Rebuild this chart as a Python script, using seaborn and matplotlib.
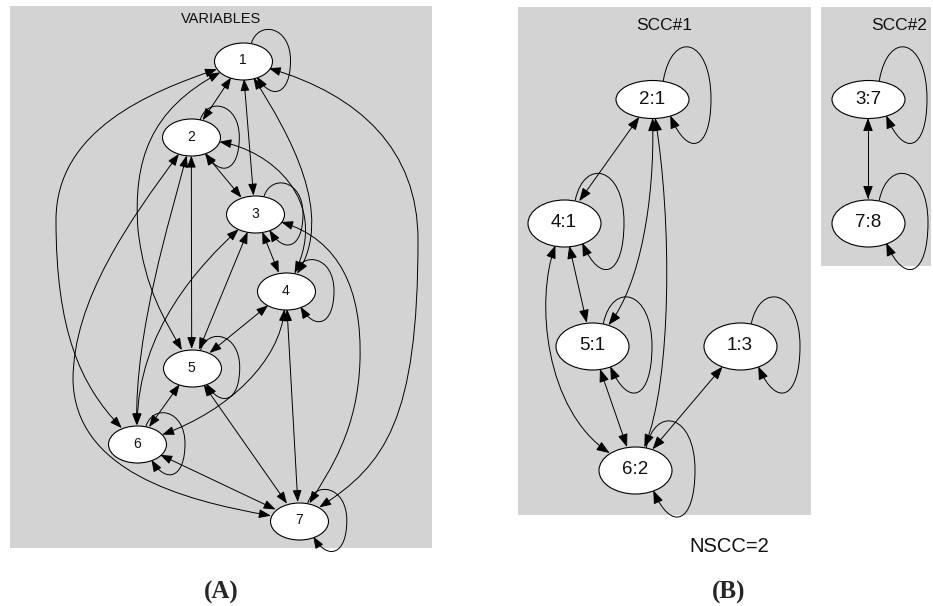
import numpy as np
import pandas as pd
import matplotlib
matplotlib.use("Agg")
import matplotlib.pyplot as plt
import seaborn as sns
from matplotlib.patches import Rectangle, FancyArrowPatch, ArrowStyle
from matplotlib.path import Path
from matplotlib.markers import MarkerStyle
from matplotlib.transforms import Affine2D

# ---------------- graph data ----------------
variables = ["1", "2", "3", "4", "5", "6", "7"]
variable_links = [
    ("1", "2"), ("1", "3"), ("2", "3"), ("2", "5"), ("3", "4"), ("3", "5"),
    ("4", "5"), ("4", "7"), ("5", "6"), ("5", "7"), ("6", "7"),
    ("1", "4"), ("2", "4"), ("1", "5"), ("1", "6"), ("1", "7"),
    ("2", "6"), ("2", "7"), ("3", "6"), ("3", "7"), ("4", "6"),
]
scc1_nodes = ["2:1", "4:1", "5:1", "1:3", "6:2"]
scc1_links = [("2:1", "4:1"), ("4:1", "5:1"), ("5:1", "6:2"), ("1:3", "6:2"),
              ("2:1", "5:1"), ("2:1", "6:2"), ("4:1", "6:2")]
scc2_nodes = ["3:7", "7:8"]
scc2_links = [("3:7", "7:8")]
panel_titles = ["VARIABLES", "SCC#1", "SCC#2"]
nscc_count = 2
panel_tags = ["(A)", "(B)"]

# ---------------- layout (pixel space) ----------------
W, H = 933, 606
pos = {
    "1": (242.5, 60.5), "2": (191.3, 137.2), "3": (255.0, 214.0),
    "4": (286.0, 290.7), "5": (191.7, 367.5), "6": (137.0, 443.8),
    "7": (298.8, 520.5),
    "2:1": (652.0, 99.0), "4:1": (564.0, 222.5), "5:1": (592.0, 346.0),
    "1:3": (740.0, 346.0), "6:2": (635.0, 470.0),
    "3:7": (868.0, 99.0), "7:8": (868.0, 222.5),
}
size = {n: (58, 37) for n in variables}
size.update({n: (73, 47) for n in ["4:1", "5:1", "1:3", "6:2", "7:8"]})
size.update({n: (73, 38) for n in ["2:1", "3:7"]})

# Bezier control points for the routed (curved) links
routes = {
    ("1", "4"): [(290, 135), (335, 215)],
    ("2", "4"): [(270, 150), (330, 200)],
    ("1", "5"): [(150, 110), (133, 160), (138, 230), (145, 290), (165, 320)],
    ("1", "6"): [(150, 92), (56, 130), (56, 220), (56, 330), (80, 385)],
    ("1", "7"): [(360, 95), (418, 150), (418, 240), (418, 420), (385, 465)],
    ("2", "6"): [(170, 220), (135, 330)],
    ("2", "7"): [(130, 220), (73, 300), (73, 380), (75, 470), (180, 500)],
    ("3", "6"): [(200, 265), (138, 330)],
    ("3", "7"): [(340, 240), (362, 290), (360, 360), (358, 430), (330, 470)],
    ("4", "6"): [(280, 360), (230, 410)],
    ("2:1", "5:1"): [(655, 200), (640, 285)],
    ("2:1", "6:2"): [(672, 220), (672, 380)],
    ("4:1", "6:2"): [(535, 300), (545, 410)],
}

loop_shape = {n: (48, 29, 29) for n in variables}
loop_shape.update({n: (60, 47, 45) for n in ["4:1", "5:1", "1:3", "6:2", "7:8"]})
loop_shape.update({n: (59, 51, 43) for n in ["2:1", "3:7"]})

sns.set_theme(style="white")
plt.rcParams["font.family"] = ["Liberation Sans", "DejaVu Sans"]

fig = plt.figure(figsize=(W / 100, H / 100), dpi=100)
ax = fig.add_axes([0, 0, 1, 1])

GREY = "#d3d3d3"
LW = 0.7


def anchor(node, toward):
    cx, cy = pos[node]
    w, h = size[node]
    dx, dy = toward[0] - cx, toward[1] - cy
    t = 1.0 / np.sqrt((dx / (w / 2)) ** 2 + (dy / (h / 2)) ** 2)
    return (cx + dx * t, cy + dy * t)


def arrow_style(both, big):
    hl, hw = (0.8, 0.3) if big else (0.72, 0.27)
    return ArrowStyle("<|-|>" if both else "-|>", head_length=hl, head_width=hw)


def draw_link(u, v, big=False):
    ctrl = routes.get((u, v))
    if ctrl is None:
        verts = [anchor(u, pos[v]), anchor(v, pos[u])]
        codes = [Path.MOVETO, Path.LINETO]
    else:
        verts = [anchor(u, ctrl[0])] + list(ctrl) + [anchor(v, ctrl[-1])]
        codes = [Path.MOVETO] + [Path.CURVE4] * (len(ctrl) + 1)
    ax.add_patch(FancyArrowPatch(path=Path(verts, codes),
                                 arrowstyle=arrow_style(True, big),
                                 mutation_scale=10, color="black",
                                 lw=LW, zorder=2))


def draw_loop(node, big=False):
    cx, cy = pos[node]
    w, h = size[node]
    a, b = w / 2, h / 2
    R, T, B = loop_shape[node]
    t0, t1 = np.radians(72), np.radians(-60)
    S = (cx + a * np.cos(t0), cy - b * np.sin(t0))
    E = (cx + a * np.cos(t1), cy - b * np.sin(t1))
    M = (cx + R, cy)
    verts = [S,
             (S[0] + 0.15 * R, cy - 1.38 * T), (cx + R, cy - 1.2 * T), M,
             (cx + R, cy + 1.2 * B), (E[0] + 0.3 * R, cy + 1.38 * B), E]
    codes = [Path.MOVETO] + [Path.CURVE4] * 6
    ax.add_patch(FancyArrowPatch(path=Path(verts, codes),
                                 arrowstyle=arrow_style(False, big),
                                 mutation_scale=10, color="black",
                                 lw=LW, zorder=2))


def ellipse_marker(w, h):
    return MarkerStyle(Path.unit_circle().transformed(Affine2D().scale(w / 2, h / 2)))


def draw_nodes(names, fontsize):
    df = pd.DataFrame({"name": names,
                       "x": [pos[n][0] for n in names],
                       "y": [pos[n][1] for n in names],
                       "w": [size[n][0] for n in names],
                       "h": [size[n][1] for n in names]})
    for (w, h), grp in df.groupby(["w", "h"]):
        sns.scatterplot(data=grp, x="x", y="y", ax=ax, marker=ellipse_marker(w, h),
                        s=(w * 0.72) ** 2, color="white", edgecolor="black",
                        linewidth=0.8, zorder=3, legend=False)
    for _, r in df.iterrows():
        ax.text(r.x, r.y, r["name"], ha="center", va="center",
                fontsize=fontsize, color="#111111", zorder=4)


# panel backgrounds
for (x0, y0, x1, y1) in [(10, 6, 432, 548), (518, 7, 811, 515), (821, 7, 931, 266)]:
    ax.add_patch(Rectangle((x0, y0), x1 - x0, y1 - y0, facecolor=GREY,
                           edgecolor="none", zorder=0))

for u, v in variable_links:
    draw_link(u, v)
for n in variables:
    draw_loop(n)
for u, v in scc1_links + scc2_links:
    draw_link(u, v, big=True)
for n in scc1_nodes + scc2_nodes:
    draw_loop(n, big=True)

draw_nodes(variables, 10)
draw_nodes(scc1_nodes + scc2_nodes, 13.5)

ax.text(221, 19, panel_titles[0], ha="center", va="center", fontsize=10.5, color="#111111")
ax.text(664, 26, panel_titles[1], ha="center", va="center", fontsize=12.5, color="#111111")
ax.text(899, 26, panel_titles[2], ha="center", va="center", fontsize=12.5, color="#111111")
ax.text(729, 547, f"NSCC={nscc_count}", ha="center", va="center", fontsize=14.5, color="#111111")
ax.text(221, 592, panel_tags[0], ha="center", va="center", fontsize=18,
        fontweight="bold", family=["Liberation Serif", "DejaVu Serif"])
ax.text(729, 592, panel_tags[1], ha="center", va="center", fontsize=18,
        fontweight="bold", family=["Liberation Serif", "DejaVu Serif"])

ax.set_xlim(0, W)
ax.set_ylim(H, 0)
ax.set_axis_off()
fig.savefig("out.png", dpi=100, facecolor="white")
